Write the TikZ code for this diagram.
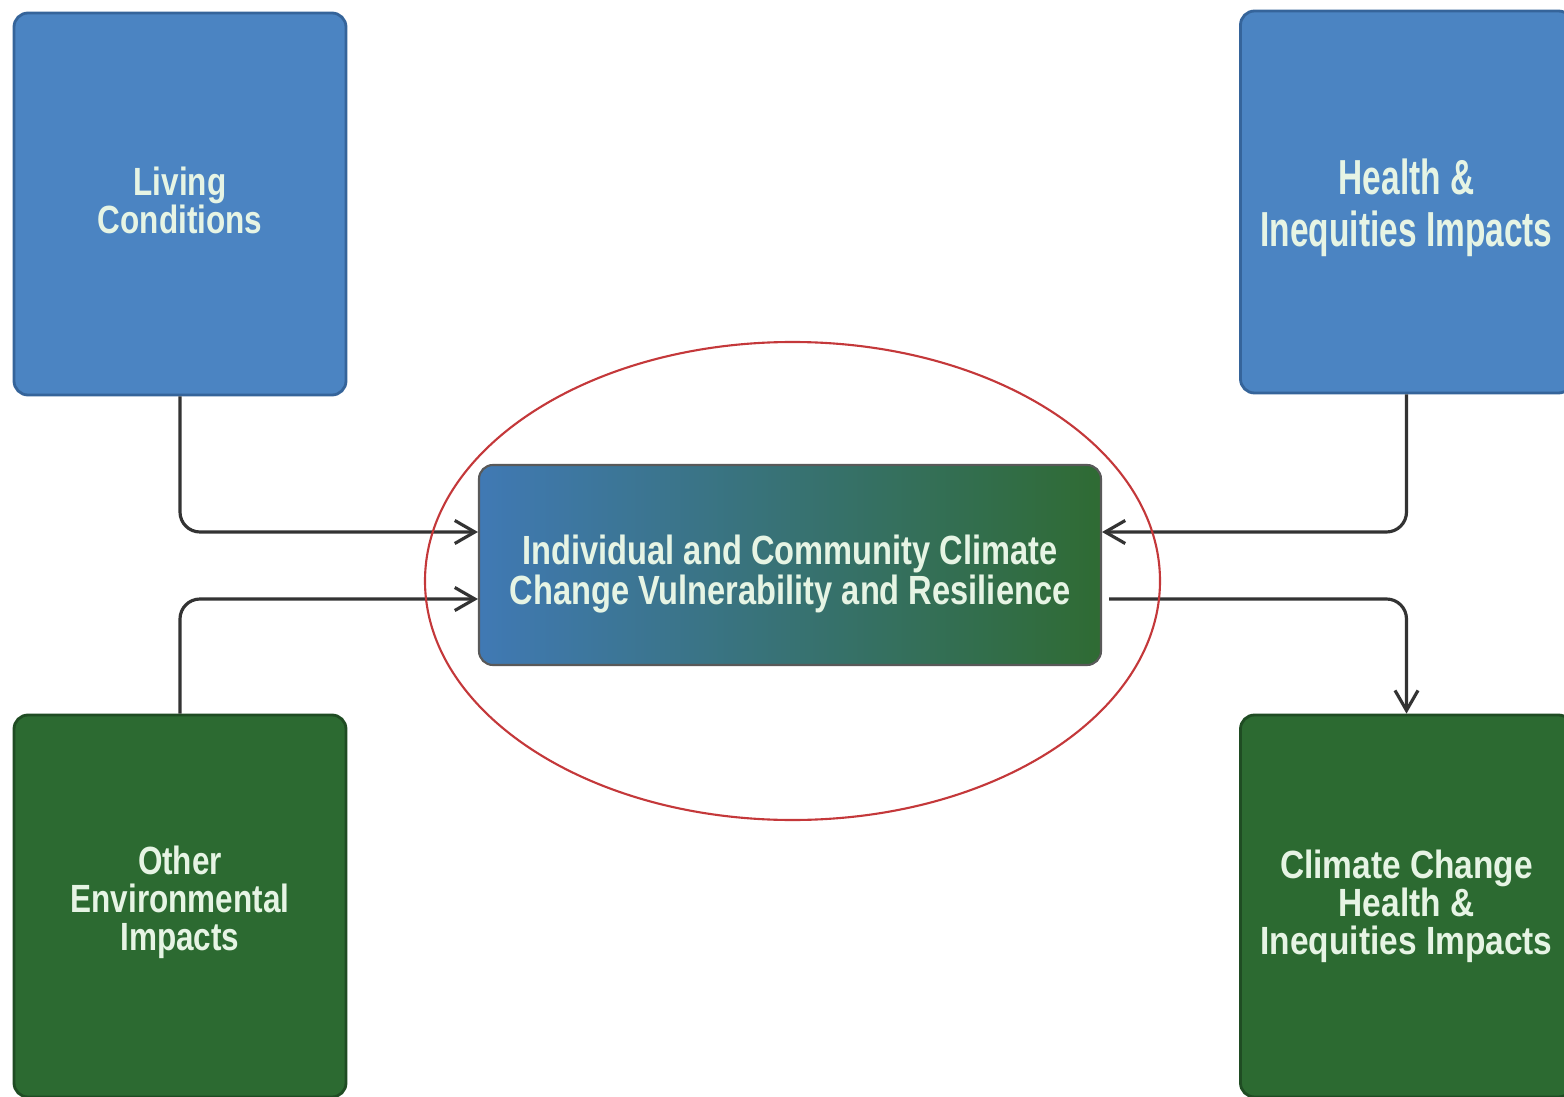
\documentclass[tikz,border=0pt]{standalone}
\usepackage{fontspec}
\setmainfont{Liberation Sans}
\newfontfamily\narrowfont{Liberation Sans}[FakeStretch=0.8]
\newfontfamily\midfont{Liberation Sans}[FakeStretch=0.85]
\newfontfamily\tallfont{Liberation Sans}[FakeStretch=0.68]
\usetikzlibrary{arrows.meta,shapes.geometric}

\definecolor{boxblue}{HTML}{4B84C2}
\definecolor{edgeblue}{HTML}{35649A}
\definecolor{boxgreen}{HTML}{2C6A31}
\definecolor{edgegreen}{HTML}{1F4C23}
\definecolor{midblue}{HTML}{4079B4}
\definecolor{midgreen}{HTML}{2F6B33}
\definecolor{mint}{HTML}{E6F4E4}
\definecolor{ringred}{HTML}{C4383A}
\definecolor{wire}{HTML}{333333}

\begin{document}
\begin{tikzpicture}[
  blk/.style={draw,line width=0.8pt,rounded corners=1.4mm,minimum width=3.32cm,minimum height=3.82cm},
  blue box/.style={blk,fill=boxblue,draw=edgeblue},
  green box/.style={blk,fill=boxgreen,draw=edgegreen},
  boxtext/.style={align=center,text=mint,font=\narrowfont\bfseries\fontsize{11.2}{10.8}\selectfont},
  core/.style={draw=black!65,line width=0.6pt,rounded corners=1.4mm,left color=midblue,right color=midgreen,
    minimum width=6.22cm,minimum height=2cm},
  ring/.style={draw=ringred,line width=0.6pt,ellipse,inner sep=0pt,minimum width=7.35cm,minimum height=4.78cm},
  link/.style={draw=wire,line width=0.9pt,rounded corners=2mm,-{Straight Barb[length=2mm,width=2.3mm]}}
]
\def\W{15.64};%ancho
\def\H{10.97};%alto

%Marco
\useasboundingbox (0,0) rectangle (\W,-\H);
\clip (0,0) rectangle (\W,-\H);
\fill[white] (0,0) rectangle (\W,-\H);

%Cajas
\node[blue box] (liv) at (1.80,-2.04) {};
\node[blue box] (hea) at (14.065,-2.02) {};
\node[green box] (oth) at (1.80,-9.06) {};
\node[green box] (ccim) at (14.065,-9.06) {};
\node[core] (cen) at (7.90,-5.65) {};

%Textos
\node[boxtext] (livtxt) at ([yshift=0.04cm]liv.center) {Living\\Conditions};
\node[boxtext,font=\tallfont\bfseries\fontsize{14}{14.8}\selectfont] (heatxt) at ([yshift=-0.06cm]hea.center) {Health \&\\Inequities Impacts};
\node[boxtext] (othtxt) at ([yshift=0.04cm]oth.center) {Other\\Environmental\\Impacts};
\node[boxtext,font=\midfont\bfseries\fontsize{11.2}{10.8}\selectfont] (ccimtxt) at (ccim.center) {Climate Change\\Health \&\\Inequities Impacts};
\node[boxtext,font=\narrowfont\bfseries\fontsize{11.6}{11.4}\selectfont] (centxt) at ([yshift=-0.09cm]cen.center) {Individual and Community Climate\\Change Vulnerability and Resilience};

%Conectores
\draw[link] (liv.south) |- ([yshift=3.3mm]cen.west);
\draw[link] (oth.north) |- ([yshift=-3.4mm]cen.west);
\draw[link] (hea.south) |- ([yshift=3.3mm]cen.east);
\coordinate (out) at ([xshift=0.7mm,yshift=-3.4mm]cen.east);
\draw[link] (out) -| (ccim.north);

%Elipse
\node[ring] (zone) at (7.925,-5.81) {};
\end{tikzpicture}
\end{document}
